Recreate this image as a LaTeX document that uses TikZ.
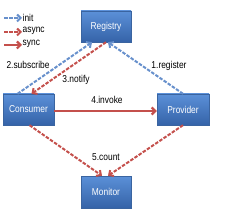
\documentclass[tikz,border=0pt]{standalone}
\usepackage{fontspec}
\setmainfont[FakeStretch=0.84]{Liberation Sans}
\usepackage{tikz}
\usetikzlibrary{arrows.meta,positioning,shadows}

\definecolor{boxtop}{HTML}{5B90D8}
\definecolor{boxbot}{HTML}{3563A8}
\definecolor{boxline}{HTML}{3A64A0}
\definecolor{initblue}{HTML}{6790CC}
\definecolor{asyncred}{HTML}{C4504C}

\begin{document}
\begin{tikzpicture}[x=1pt, y=-1pt,
    box/.style={rectangle, draw=boxline, thin, top color=boxtop, bottom color=boxbot, minimum width=50pt, minimum height=31pt, inner sep=1pt, text=white, font=\fontsize{10}{12}\selectfont, drop shadow={opacity=0.35, shadow xshift=1pt, shadow yshift=-1.2pt}},
    lbl/.style={font=\fontsize{10}{12}\selectfont, inner sep=1pt},
    legend/.style={font=\fontsize{10}{12}\selectfont, inner sep=0.5pt, anchor=west},
    initarrow/.style={-{Straight Barb[length=3.5pt, width=7pt]}, initblue, line width=2pt, dash pattern=on 3.5pt off 1.5pt},
    asyncarrow/.style={-{Straight Barb[length=3.5pt, width=7pt]}, asyncred, line width=2pt, dash pattern=on 3.5pt off 1.5pt},
    syncarrow/.style={-{Straight Barb[length=3.5pt, width=7pt]}, asyncred, line width=2.2pt}
]
\useasboundingbox (0,0) rectangle (224,224);

\node[box] (registry) at (106,26.5)  {Registry};
\node[box, minimum width=51pt] (consumer) at (28.5,109.5) {Consumer};
\node[box, minimum width=52pt] (provider) at (183,109.5)  {Provider};
\node[box, minimum height=32pt] (monitor)  at (106,192)   {Monitor};

\draw[initarrow] (provider.north) -- ([xshift=2pt]registry.south);
\draw[initarrow] ([xshift=-11pt]consumer.north) -- ([xshift=-14pt]registry.south);
\draw[asyncarrow] ([xshift=0pt]registry.south) -- ([xshift=3pt]consumer.north);
\draw[syncarrow] ([yshift=-1.5pt]consumer.east) -- ([yshift=-1.5pt]provider.west);
\draw[asyncarrow] ([xshift=1pt]consumer.south) -- ([xshift=-4pt]monitor.north);
\draw[asyncarrow] (provider.south) -- ([xshift=2pt]monitor.north);

\node[lbl] (register)  at (169,66)  {1.register};
\node[lbl] (subscribe) at (28,65)   {2.subscribe};
\node[lbl] (notify)    at (76,80)   {3.notify};
\node[lbl] (invoke)    at (107,100) {4.invoke};
\node[lbl] (count)     at (106,157) {5.count};

\node[legend] (linit)  at (22,17.5) {init};
\node[legend] (lasync) at (22,31)   {async};
\node[legend] (lsync)  at (22,44)   {sync};
\coordinate (cinit)  at (4,18);
\coordinate (casync) at (4,32);
\coordinate (csync)  at (4,45);
\draw[initarrow]  (cinit)  -- (linit.west |- cinit);
\draw[asyncarrow] (casync) -- (lasync.west |- casync);
\draw[syncarrow]  (csync)  -- (lsync.west |- csync);
\end{tikzpicture}
\end{document}
